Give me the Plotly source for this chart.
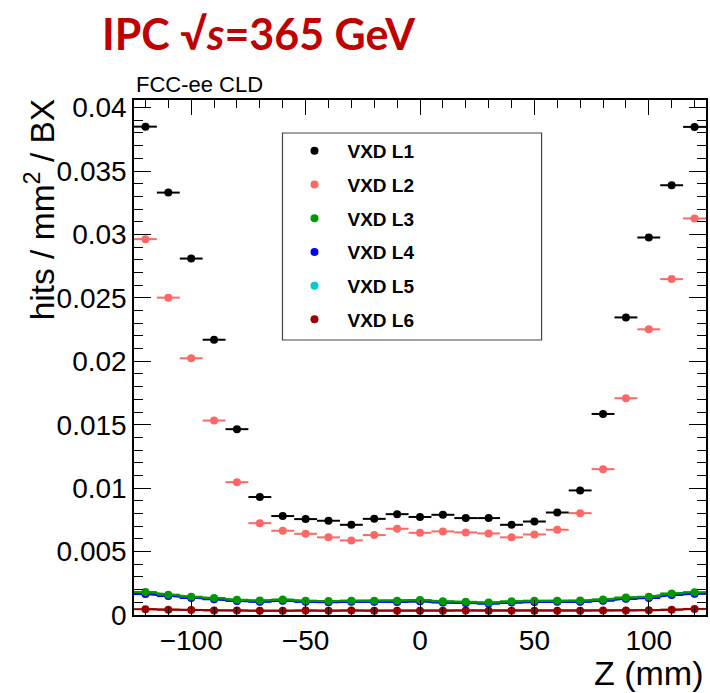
import plotly.graph_objects as go

# ---------------- data ----------------
z_mm = [-120, -110, -100, -90, -80, -70, -60, -50, -40, -30, -20, -10, 0,
        10, 20, 30, 40, 50, 60, 70, 80, 90, 100, 110, 120]
z_halfwidth = [5] * 25

vxd_l1 = [0.0385, 0.0333, 0.0281, 0.0217, 0.01465, 0.0093, 0.0078, 0.00756, 0.00743,
          0.00711, 0.00758, 0.00795, 0.00773, 0.0079, 0.00764, 0.00764, 0.00711, 0.00737,
          0.00808, 0.00982, 0.01585, 0.02346, 0.02976, 0.03388, 0.03848]
vxd_l2 = [0.02963, 0.02502, 0.02024, 0.01533, 0.01047, 0.00724, 0.00664, 0.0064, 0.00612,
          0.00588, 0.0063, 0.0068, 0.00648, 0.00659, 0.00651, 0.00643, 0.00612, 0.00635,
          0.00672, 0.00803, 0.0115, 0.01709, 0.02252, 0.02648, 0.03126]
vxd_l3 = [0.00181, 0.00160, 0.00144, 0.00134, 0.00120, 0.00114, 0.00122, 0.00113, 0.00110,
          0.00113, 0.00113, 0.00113, 0.00118, 0.00108, 0.00104, 0.00098, 0.00108, 0.00113,
          0.00113, 0.00114, 0.00123, 0.00138, 0.00144, 0.00170, 0.00180]
vxd_l4 = [0.00165, 0.00150, 0.00134, 0.00124, 0.00111, 0.00105, 0.00112, 0.00104, 0.00101,
          0.00104, 0.00104, 0.00103, 0.00108, 0.00099, 0.00095, 0.00090, 0.00099, 0.00103,
          0.00104, 0.00105, 0.00113, 0.00128, 0.00134, 0.00158, 0.00167]
vxd_l5 = [0.00168, 0.00152, 0.00137, 0.00126, 0.00113, 0.00107, 0.00114, 0.00106, 0.00103,
          0.00106, 0.00105, 0.00105, 0.00110, 0.00101, 0.00097, 0.00092, 0.00101, 0.00105,
          0.00106, 0.00107, 0.00115, 0.00130, 0.00136, 0.00161, 0.00170]
vxd_l6 = [0.00046, 0.00042, 0.00040, 0.00036, 0.00036, 0.00034, 0.00034, 0.00036, 0.00034,
          0.00036, 0.00034, 0.00034, 0.00034, 0.00034, 0.00035, 0.00034, 0.00034, 0.00034,
          0.00034, 0.00034, 0.00035, 0.00036, 0.00038, 0.00042, 0.00048]

series_names = ["VXD L1", "VXD L2", "VXD L3", "VXD L4", "VXD L5", "VXD L6"]
series_colors = ["#000000", "#FF6666", "#009900", "#0000FF", "#00CCCC", "#990000"]

y_tickvals = [0, 0.005, 0.01, 0.015, 0.02, 0.025, 0.03, 0.035, 0.04]
y_ticktext = ["0", "0.005", "0.01", "0.015", "0.02", "0.025", "0.03", "0.035", "0.04"]
x_tickvals = [-100, -50, 0, 50, 100]
x_ticktext = ["\u2212100", "\u221250", "0", "50", "100"]

FONT = "Liberation Sans"

fig = go.Figure()

# legend-only entries (dots only, like the ROOT legend)
for name, col in zip(series_names, series_colors):
    fig.add_trace(go.Scatter(x=[None], y=[None], mode="markers", name=name,
                             legendgroup=name,
                             marker=dict(color=col, size=8)))

all_vals = [vxd_l1, vxd_l2, vxd_l3, vxd_l4, vxd_l5, vxd_l6]
# draw low layers first: L6, L5, L4, L3 (with connecting lines), then L2, L1
for idx in [5, 4, 3, 2]:
    fig.add_trace(go.Scatter(
        x=z_mm, y=all_vals[idx], mode="lines+markers", showlegend=False,
        line=dict(color=series_colors[idx], width=2),
        marker=dict(color=series_colors[idx], size=8),
        error_x=dict(type="data", array=z_halfwidth, color=series_colors[idx],
                     thickness=2, width=0),
    ))
for idx in [1, 0]:
    fig.add_trace(go.Scatter(
        x=z_mm, y=all_vals[idx], mode="markers", showlegend=False,
        marker=dict(color=series_colors[idx], size=8),
        error_x=dict(type="data", array=z_halfwidth, color=series_colors[idx],
                     thickness=2, width=0),
    ))

axis_common = dict(showline=True, linecolor="black", linewidth=1.5, mirror="ticks",
                   ticks="inside", tickcolor="black", tickwidth=1,
                   showgrid=False, zeroline=False,
                   tickfont=dict(family=FONT, size=28, color="black"))

fig.update_xaxes(range=[-125, 125], tickvals=x_tickvals, ticktext=x_ticktext,
                 ticklen=15,
                 minor=dict(ticks="inside", dtick=10, tick0=0, ticklen=8,
                            tickcolor="black", tickwidth=1, showgrid=False),
                 **axis_common)
fig.update_yaxes(range=[0, 0.0406], tickvals=y_tickvals, ticktext=y_ticktext,
                 ticklen=17,
                 minor=dict(ticks="inside", dtick=0.001, tick0=0, ticklen=9,
                            tickcolor="black", tickwidth=1, showgrid=False),
                 **axis_common)

# legend box
fig.add_shape(type="rect", xref="paper", yref="paper",
              x0=(283 - 134) / 574, x1=(543 - 134) / 574,
              y0=(615 - 340) / 515, y1=(615 - 133) / 515,
              line=dict(color="#444444", width=1.2), fillcolor="rgba(0,0,0,0)")

fig.update_layout(
    width=710, height=693,
    margin=dict(l=134, r=2, t=100, b=78),
    plot_bgcolor="white", paper_bgcolor="white",
    showlegend=True,
    legend=dict(x=(282 - 134) / 574, y=(615 - 132) / 515, xanchor="left", yanchor="top",
                bgcolor="rgba(0,0,0,0)", borderwidth=0, itemwidth=56,
                tracegroupgap=6,
                font=dict(family=FONT, size=19, color="black", weight="bold")),
    annotations=[
        dict(text="IPC \u221a<i>s</i>=365 GeV", xref="paper", yref="paper",
             x=(259 - 134) / 574, y=(615 - 33) / 515, xanchor="center", yanchor="middle",
             showarrow=False,
             font=dict(family="Lato", size=43, color="#C00000", weight="bold")),
        dict(text="FCC-ee CLD", xref="paper", yref="paper",
             x=0, y=(615 - 99) / 515, xanchor="left", yanchor="bottom",
             showarrow=False, font=dict(family=FONT, size=22, color="black")),
        dict(text="hits / mm<sup>2</sup> / BX", xref="paper", yref="paper",
             x=(40 - 134) / 574, y=(615 - 209) / 515, xanchor="center", yanchor="middle",
             textangle=-90, showarrow=False,
             font=dict(family=FONT, size=33.5, color="black")),
        dict(text="Z (mm)", xref="paper", yref="paper",
             x=1.0, y=(615 - 673) / 515, xanchor="right", yanchor="middle",
             showarrow=False, font=dict(family=FONT, size=34, color="black")),
    ],
)

fig.write_html("out.html")
